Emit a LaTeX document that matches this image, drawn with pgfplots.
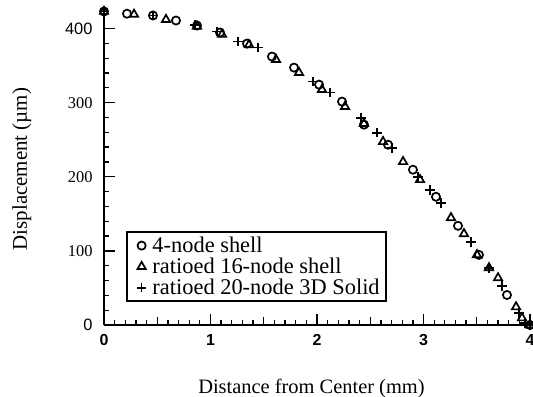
\documentclass[border=0pt]{standalone}
\usepackage{fontspec}
\setmainfont{Liberation Serif}
\newfontfamily\hv{Liberation Sans}
\usepackage{pgfplots}
\pgfplotsset{compat=1.18}
\pgfplotsset{mylegimg/.style={legend image code/.code={\path (0bp,0bp) (18bp,0bp); \draw plot coordinates {(10bp,0bp)};}}}
\begin{document}
\begin{tikzpicture}
\useasboundingbox (-104bp,-72bp) rectangle (429bp,325bp);
\begin{axis}[
  scale only axis, width=426bp, height=315bp,
  xmin=0, xmax=4, ymin=0, ymax=425,
  axis lines*=left,
  axis line style={line width=1.8bp},
  clip=false,
  tick align=inside,
  xtick={0,1,2,3,4}, ytick={0,100,200,300,400},
  yticklabels={{\hv 0},100,200,300,{\hv 400}},
  minor x tick num=9, minor y tick num=4,
  major tick length=11bp, minor tick length=5bp,
  every tick/.style={black, line width=1.3bp},
  extra x ticks={0.5,1.5,2.5,3.5}, extra x tick labels={},
  extra x tick style={major tick length=8bp},
  /pgf/number format/assume math mode=true,
  xticklabel style={font=\hv\bfseries\fontsize{16}{16}\selectfont, yshift=-6bp},
  yticklabel style={font=\fontsize{16.5}{16}\selectfont, xshift=-8bp},
  xlabel={Distance from Center (mm)},
  ylabel={Displacement (µm)},
  xlabel style={font=\fontsize{20.5}{22}\selectfont, at={(axis description cs:0.487,-0.2159)}, anchor=base},
  ylabel style={font=\fontsize{21}{22}\selectfont, at={(axis description cs:-0.1808,0.495)}, anchor=base},
  legend style={draw=black, line width=1.6bp, at={(axis description cs:0.0516,0.073)}, anchor=south west,
    font=\fontsize{22.5}{22}\selectfont, inner xsep=4bp, inner ysep=3bp, row sep=0bp, cells={anchor=west}},
]
\addplot[only marks, mark=o, mark size=4.1bp, line width=1.7bp, black, mylegimg] coordinates {
(0,423) (0.216,420) (0.46,417.6) (0.676,410.8) (0.873,404) (1.089,394.6) (1.343,379.7)
(1.577,362.2) (1.784,347.3) (2.019,324.3) (2.235,301.4) (2.441,270.3) (2.667,243.2)
(2.901,209.5) (3.117,173) (3.324,133.8) (3.521,94.6) (3.784,40.5) (4.0,0)
};
\addlegendentry{4-node shell}
\addplot[only marks, mark=triangle, mark size=4.8bp, line width=1.7bp, black, mylegimg] coordinates {
(0,423) (0.282,419) (0.582,412) (0.873,403) (1.108,392) (1.362,378) (1.615,358)
(1.831,340.5) (2.047,317.6) (2.263,294.6) (2.441,271.6) (2.620,247.3) (2.808,220.3)
(2.967,196) (3.258,144.6) (3.380,123) (3.502,94.6) (3.615,77) (3.700,63.5)
(3.869,24.3) (3.925,9.5) (4.0,0)
};
\addlegendentry{ratioed 16-node shell}
\addplot[only marks, mark=+, mark size=4.8bp, line width=1.7bp, black, mylegimg] coordinates {
(0,423) (0.46,417.6) (0.854,405) (1.061,396) (1.258,382.4) (1.446,374.3) (1.962,328.4)
(2.122,313.5) (2.413,279.7) (2.563,259.5) (2.704,239.2) (2.948,200) (3.061,182.4)
(3.164,164.9) (3.446,112.2) (3.615,77) (3.737,52.7) (3.897,16.2) (3.953,2.7) (4.0,0)
};
\addlegendentry{ratioed 20-node 3D Solid}
\end{axis}
\end{tikzpicture}
\end{document}
